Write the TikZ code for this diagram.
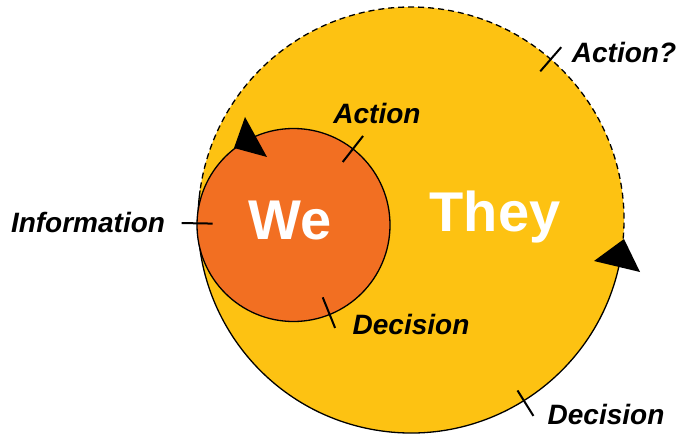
\documentclass[tikz,border=0pt]{standalone}
\usepackage{fontspec}
\setmainfont{Liberation Sans}
\usetikzlibrary{calc}

\definecolor{theyyellow}{HTML}{FDC212}
\definecolor{weorange}{HTML}{F26F22}

\tikzset{
  steptext/.style={font=\fontsize{28}{30}\selectfont\bfseries\itshape},
  nametext/.style={font=\fontsize{56}{60}\selectfont\bfseries, text=white},
  tickline/.style={line width=2pt},
}

\begin{document}
\begin{tikzpicture}[x=1pt, y=1pt, line join=round]
\useasboundingbox (0,0) rectangle (679,437);

\coordinate (they) at (411,217);
\coordinate (we) at (293.5,212);

% outer loop, solid below and dashed above
\fill[theyyellow] (they) circle[radius=213pt];
\draw[line width=1.3pt] (they) ++(172:213pt) arc[start angle=172, end angle=352, radius=213pt];
\draw[line width=1.3pt, dash pattern=on 6pt off 4pt] (they) ++(-5:213pt) arc[start angle=-5, end angle=172, radius=213pt];

% inner loop
\filldraw[fill=weorange, line width=1.3pt] (we) circle[radius=96.5pt];

% ticks
\draw[tickline] ($(they)+(49:197)$) -- ($(they)+(49:229)$);
\draw[tickline] ($(they)+(-58:201)$) -- ($(they)+(-58:231)$);
\draw[tickline] ($(we)+(52:80)$) -- ($(we)+(52:113)$);
\draw[tickline] ($(we)+(179:81)$) -- ($(we)+(179:112)$);
\draw[tickline] ($(we)+(-68:78)$) -- ($(we)+(-68:111)$);

% arrow heads
\fill (624,198) -- (594,176) -- (640,165) -- cycle;
\fill (245,320) -- (234,289) -- (267,280) -- cycle;

% names
\node[nametext] (theyname) at (495,220) {They};
\node[nametext] (wename) at (290,216) {We};

% steps
\node[steptext] (actionq) at (624,385) {Action?};
\node[steptext] (action) at (377,324) {Action};
\node[steptext] (info) at (88,215) {Information};
\node[steptext] (decision) at (411,113) {Decision};
\node[steptext] (decisionb) at (606,23) {Decision};

\end{tikzpicture}
\end{document}
